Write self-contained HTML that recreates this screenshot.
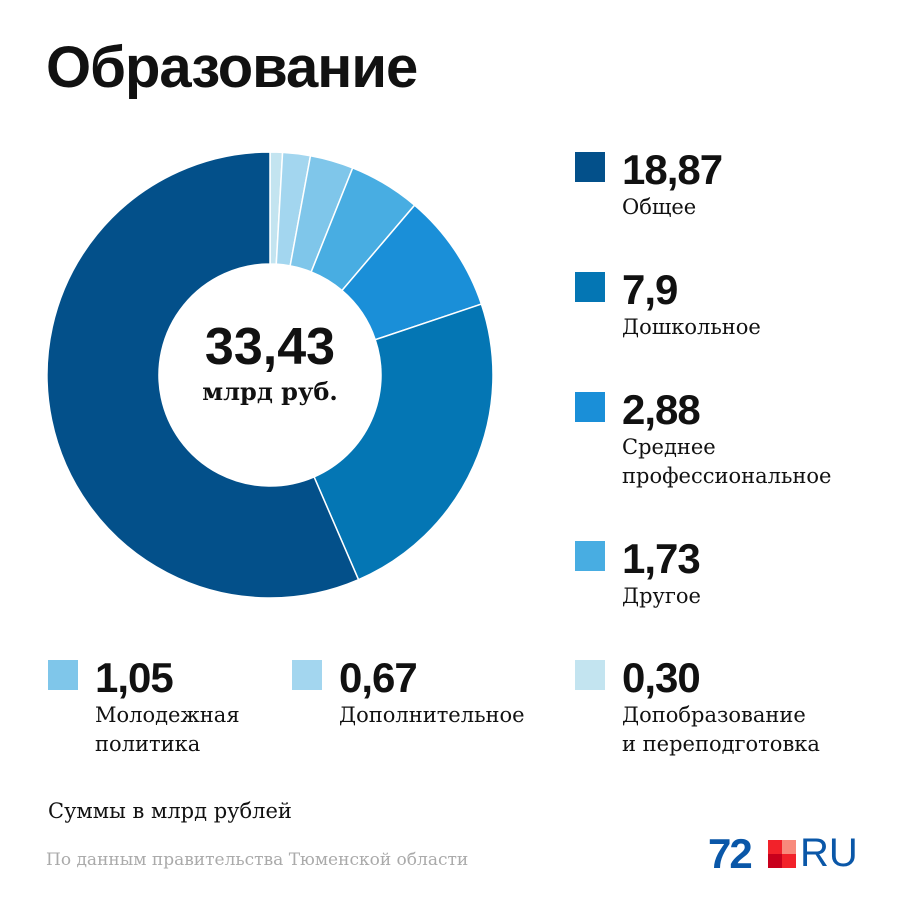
<!DOCTYPE html>
<html><head><meta charset="utf-8"><style>
body{margin:0;width:900px;height:900px;background:#fff;position:relative;overflow:hidden;font-family:"Liberation Sans",sans-serif;color:#111}
.abs{position:absolute}
.t{left:46px;top:34px;font-size:58px;font-weight:bold;letter-spacing:-1px}
.sq{position:absolute;width:30px;height:30px}
.v{position:absolute;font-size:42px;font-weight:bold;line-height:1;letter-spacing:-1px}
.l{position:absolute;font-family:"DejaVu Serif","Liberation Serif",serif;font-size:21px;line-height:29px;color:#111}
</style></head><body>
<div class="abs t">Образование</div>
<svg class="abs" style="left:0;top:0" width="900" height="900">
<g id="slices"></g>
<text x="270" y="364" text-anchor="middle" font-family="Liberation Sans" font-weight="bold" font-size="52" fill="#111">33,43</text>
<text x="270" y="400" text-anchor="middle" font-family="DejaVu Serif" font-weight="bold" font-size="24" fill="#111">млрд руб.</text>
</svg>
<div id="legend"></div>
<div class="l" style="left:48px;top:797px">Суммы в млрд рублей</div>
<div class="abs" style="left:46px;top:850px;font-size:17px;color:#aaa;font-family:'DejaVu Serif',serif">По данным правительства Тюменской области</div>
<div class="abs" style="left:708px;top:836px;height:36px">
<span style="position:absolute;left:0;top:-6px;font-size:42px;font-weight:bold;color:#0a57a8;letter-spacing:-2px">72</span>
<div style="position:absolute;left:60px;top:4px;width:14px;height:14px;background:#f2222a"></div>
<div style="position:absolute;left:74px;top:4px;width:14px;height:14px;background:#f88a7c"></div>
<div style="position:absolute;left:60px;top:18px;width:14px;height:14px;background:#c8001c"></div>
<div style="position:absolute;left:74px;top:18px;width:14px;height:14px;background:#f2222a"></div>
<span style="position:absolute;left:92px;top:-5px;font-size:40px;color:#0a57a8">RU</span>
</div>
<script>
const categories=["Общее","Дошкольное","Среднее<br>профессиональное","Другое","Молодежная<br>политика","Дополнительное","Допобразование<br>и переподготовка"];
const values=[18.87,7.9,2.88,1.73,1.05,0.67,0.30];
const labels=["18,87","7,9","2,88","1,73","1,05","0,67","0,30"];
const colors=["#03508a","#0476b4","#1a8fd8","#48ade2","#7fc6ea","#a3d6ef","#c3e4f0"];
const cx=270,cy=375,R=223,r=111;
const total=values.reduce((a,b)=>a+b,0);
const g=document.getElementById('slices');
let a=0;
for(let i=values.length-1;i>=0;i--){
 const a0=a,a1=a+values[i]/total*2*Math.PI;a=a1;
 const p=(rad,t)=>[cx+rad*Math.sin(t),cy-rad*Math.cos(t)];
 const big=(a1-a0)>Math.PI?1:0;
 const [x0,y0]=p(R,a0),[x1,y1]=p(R,a1),[x2,y2]=p(r,a1),[x3,y3]=p(r,a0);
 const path=document.createElementNS('http://www.w3.org/2000/svg','path');
 path.setAttribute('d',`M${x0},${y0}A${R},${R} 0 ${big} 1 ${x1},${y1}L${x2},${y2}A${r},${r} 0 ${big} 0 ${x3},${y3}Z`);
 path.setAttribute('fill',colors[i]);path.setAttribute('stroke','#fff');path.setAttribute('stroke-width','1.5');
 
 
 g.appendChild(path);
}
const pos=[[575,152],[575,272],[575,392],[575,541],[48,660],[292,660],[575,660]];
const lg=document.getElementById('legend');
values.forEach((v,i)=>{
 const [x,y]=pos[i];
 const s=document.createElement('div');s.className='sq';s.style.left=x+'px';s.style.top=y+'px';s.style.background=colors[i];
 
 
 const t=document.createElement('div');t.className='v';t.style.left=(x+47)+'px';t.style.top=(y-3)+'px';t.textContent=labels[i];
 
 
 const l=document.createElement('div');l.className='l';l.style.left=(x+47)+'px';l.style.top=(y+41)+'px';l.innerHTML=categories[i];
 
 
 lg.append(s,t,l);
});
</script>
</body></html>
